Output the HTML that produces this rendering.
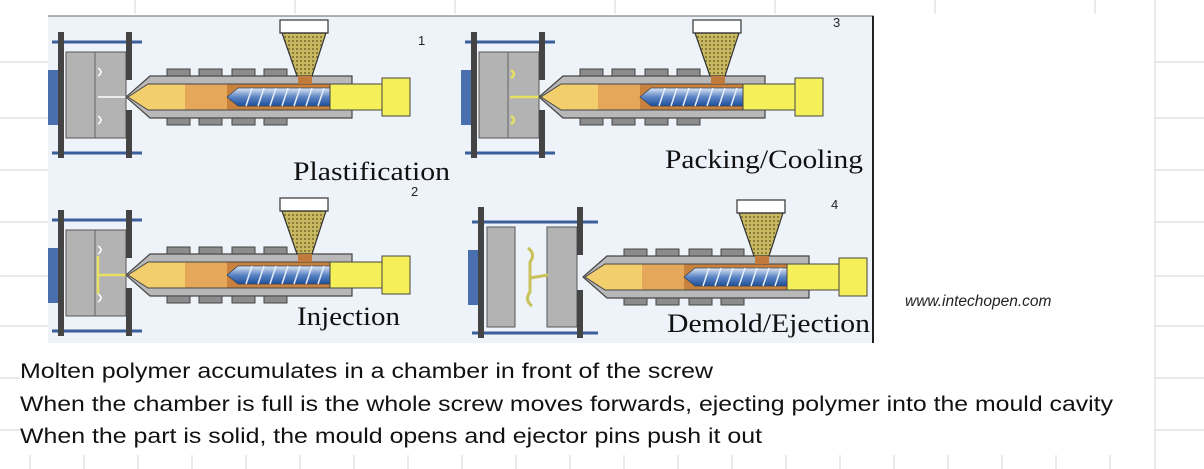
<!DOCTYPE html>
<html><head><meta charset="utf-8"><style>html,body{margin:0;padding:0;background:#fff;width:1204px;height:469px;overflow:hidden}</style></head>
<body>
<svg width="1204" height="469" viewBox="0 0 1204 469" xmlns="http://www.w3.org/2000/svg">
<defs>
<linearGradient id="scr" x1="0" y1="0" x2="0" y2="1"><stop offset="0" stop-color="#dfe8f5"/><stop offset="0.5" stop-color="#5b84c4"/><stop offset="1" stop-color="#1f4f9a"/></linearGradient>
<pattern id="grain" width="4" height="4" patternUnits="userSpaceOnUse"><rect width="4" height="4" fill="#c9b862"/><rect width="2" height="2" fill="#8a7d3a"/></pattern>
<g id="inj">
  <polygon points="126,97 150,76 352,76 352,118 150,118" fill="#b8b8b8" stroke="#444" stroke-width="1.2"/>
  <g fill="#8c8c8c" stroke="#444" stroke-width="1">
    <rect x="167" y="69" width="23" height="7"/><rect x="199" y="69" width="23" height="7"/><rect x="232" y="69" width="23" height="7"/><rect x="264" y="69" width="23" height="7"/>
    <rect x="167" y="118" width="23" height="7"/><rect x="199" y="118" width="23" height="7"/><rect x="232" y="118" width="23" height="7"/><rect x="264" y="118" width="23" height="7"/>
  </g>
  <polygon points="128,97 148,84 330,84 330,110 148,110" fill="#f2cf6c" stroke="#444" stroke-width="1"/>
  <rect x="185" y="84.5" width="42" height="25" fill="#e5a85a"/>
  <rect x="227" y="84.5" width="103" height="25" fill="#c8823e"/>
  <polygon points="227,97 238,88 330,88 330,106 238,106" fill="url(#scr)" stroke="#345" stroke-width="0.8"/>
  <g stroke="#e8eef8" stroke-width="1.5">
    <line x1="246" y1="106" x2="252" y2="88"/><line x1="258" y1="106" x2="264" y2="88"/><line x1="270" y1="106" x2="276" y2="88"/><line x1="282" y1="106" x2="288" y2="88"/><line x1="294" y1="106" x2="300" y2="88"/><line x1="306" y1="106" x2="312" y2="88"/><line x1="318" y1="106" x2="324" y2="88"/>
  </g>
  <rect x="330" y="84" width="52" height="26" fill="#f5f05a" stroke="#444" stroke-width="1"/>
  <rect x="382" y="78" width="28" height="38" fill="#f5f05a" stroke="#444" stroke-width="1"/>
  <rect x="280" y="20" width="48" height="13" fill="#fff" stroke="#333" stroke-width="1.2"/>
  <polygon points="282,33 326,33 312,76 297,76" fill="url(#grain)" stroke="#333" stroke-width="1.2"/>
  <rect x="298" y="76" width="14" height="8" fill="#c07a3c"/>
</g>
<g id="frame">
  <line x1="52" y1="42" x2="142" y2="42" stroke="#3a5f9a" stroke-width="3"/>
  <line x1="52" y1="153" x2="142" y2="153" stroke="#3a5f9a" stroke-width="3"/>
  <rect x="48" y="70" width="10" height="55" fill="#4a6fae"/>
  <rect x="58" y="32" width="6" height="126" fill="#444"/>
</g>
</defs>

<g stroke="#d6d6d6" stroke-width="1">
  <line x1="0" y1="62" x2="48" y2="62"/><line x1="0" y1="118" x2="48" y2="118"/><line x1="0" y1="170" x2="48" y2="170"/><line x1="0" y1="222" x2="48" y2="222"/><line x1="0" y1="276" x2="48" y2="276"/><line x1="0" y1="326" x2="48" y2="326"/><line x1="0" y1="378" x2="20" y2="378"/><line x1="0" y1="430" x2="20" y2="430"/>
  <line x1="1155" y1="62" x2="1204" y2="62"/><line x1="1155" y1="118" x2="1204" y2="118"/><line x1="1155" y1="170" x2="1204" y2="170"/><line x1="1155" y1="222" x2="1204" y2="222"/><line x1="1155" y1="276" x2="1204" y2="276"/><line x1="1155" y1="326" x2="1204" y2="326"/><line x1="1155" y1="378" x2="1204" y2="378"/><line x1="1155" y1="430" x2="1204" y2="430"/>
  <line x1="1155" y1="0" x2="1155" y2="469"/>
  <g>
    <line x1="30" y1="455" x2="30" y2="469"/><line x1="84" y1="455" x2="84" y2="469"/><line x1="138" y1="455" x2="138" y2="469"/><line x1="192" y1="455" x2="192" y2="469"/><line x1="246" y1="455" x2="246" y2="469"/><line x1="300" y1="455" x2="300" y2="469"/><line x1="354" y1="455" x2="354" y2="469"/><line x1="408" y1="455" x2="408" y2="469"/><line x1="462" y1="455" x2="462" y2="469"/><line x1="516" y1="455" x2="516" y2="469"/><line x1="570" y1="455" x2="570" y2="469"/><line x1="624" y1="455" x2="624" y2="469"/><line x1="678" y1="455" x2="678" y2="469"/><line x1="732" y1="455" x2="732" y2="469"/><line x1="786" y1="455" x2="786" y2="469"/><line x1="840" y1="455" x2="840" y2="469"/><line x1="894" y1="455" x2="894" y2="469"/><line x1="948" y1="455" x2="948" y2="469"/><line x1="1002" y1="455" x2="1002" y2="469"/><line x1="1056" y1="455" x2="1056" y2="469"/><line x1="1110" y1="455" x2="1110" y2="469"/>
    <line x1="135" y1="0" x2="135" y2="14"/><line x1="295" y1="0" x2="295" y2="14"/><line x1="455" y1="0" x2="455" y2="14"/><line x1="615" y1="0" x2="615" y2="14"/><line x1="775" y1="0" x2="775" y2="14"/><line x1="935" y1="0" x2="935" y2="14"/><line x1="1095" y1="0" x2="1095" y2="14"/>
  </g>
</g>

<rect x="48" y="16" width="826" height="327" fill="#eef3fa"/>
<line x1="48" y1="16" x2="874" y2="16" stroke="#666" stroke-width="1"/>
<line x1="873" y1="16" x2="873" y2="343" stroke="#222" stroke-width="2"/>

<g>
  <use href="#frame"/>
  <rect x="66" y="52" width="60" height="86" fill="#b3b3b3" stroke="#555"/>
  <line x1="95" y1="52" x2="95" y2="138" stroke="#666"/>
  <path d="M98,68 q6,4 0,8 M98,116 q6,4 0,8 M98,97 h28" stroke="#fff" stroke-width="1.5" fill="none"/>
  <rect x="126" y="32" width="6" height="48" fill="#444"/><rect x="126" y="110" width="6" height="48" fill="#444"/>
  <use href="#inj"/>
  <text x="418" y="45" font-family="Liberation Sans, sans-serif" font-size="13" fill="#222">1</text>
  <text x="293" y="180" font-family="Liberation Serif, serif" font-size="26" fill="#111" textLength="157" lengthAdjust="spacingAndGlyphs">Plastification</text>
</g>
<g transform="translate(0,178)">
  <use href="#frame"/>
  <rect x="66" y="52" width="60" height="86" fill="#b3b3b3" stroke="#555"/>
  <line x1="95" y1="52" x2="95" y2="138" stroke="#666"/>
  <path d="M98,68 q6,4 0,8 M98,116 q6,4 0,8" stroke="#fff" stroke-width="1.5" fill="none"/>
  <path d="M97,97 h29 M98,78 v38" stroke="#e8e060" stroke-width="2.5" fill="none"/>
  <rect x="126" y="32" width="6" height="48" fill="#444"/><rect x="126" y="110" width="6" height="48" fill="#444"/>
  <use href="#inj"/>
  <text x="411" y="18" font-family="Liberation Sans, sans-serif" font-size="13" fill="#222">2</text>
  <text x="297" y="147" font-family="Liberation Serif, serif" font-size="26" fill="#111" textLength="103" lengthAdjust="spacingAndGlyphs">Injection</text>
</g>
<g transform="translate(413,0)">
  <use href="#frame"/>
  <rect x="66" y="52" width="60" height="86" fill="#b3b3b3" stroke="#555"/>
  <line x1="95" y1="52" x2="95" y2="138" stroke="#666"/>
  <path d="M97,97 h29 M98,70 q6,4 0,8 M98,116 q6,4 0,8" stroke="#e8e060" stroke-width="2.5" fill="none"/>
  <rect x="126" y="32" width="6" height="48" fill="#444"/><rect x="126" y="110" width="6" height="48" fill="#444"/>
  <use href="#inj"/>
  <text x="420" y="27" font-family="Liberation Sans, sans-serif" font-size="13" fill="#222">3</text>
  <text x="252" y="168" font-family="Liberation Serif, serif" font-size="26" fill="#111" textLength="198" lengthAdjust="spacingAndGlyphs">Packing/Cooling</text>
</g>
<g transform="translate(420,180)">
  <line x1="52" y1="42" x2="178" y2="42" stroke="#3a5f9a" stroke-width="3"/>
  <line x1="52" y1="153" x2="178" y2="153" stroke="#3a5f9a" stroke-width="3"/>
  <rect x="48" y="70" width="10" height="55" fill="#4a6fae"/>
  <rect x="58" y="27" width="6" height="131" fill="#444"/>
  <rect x="67" y="47" width="28" height="100" fill="#b3b3b3" stroke="#555"/>
  <rect x="127" y="47" width="30" height="100" fill="#b3b3b3" stroke="#555"/>
  <path d="M108,68 q8,6 2,14 v30 q-6,8 2,14 M110,98 l18,-3" stroke="#c9c15a" stroke-width="3" fill="none"/>
  <rect x="157" y="27" width="6" height="48" fill="#444"/><rect x="157" y="110" width="6" height="48" fill="#444"/>
  <g transform="translate(37,0)"><use href="#inj"/></g>
  <text x="411" y="29" font-family="Liberation Sans, sans-serif" font-size="13" fill="#222">4</text>
  <text x="247" y="152" font-family="Liberation Serif, serif" font-size="26" fill="#111" textLength="203" lengthAdjust="spacingAndGlyphs">Demold/Ejection</text>
</g>

<text x="905" y="306" font-family="Liberation Sans, sans-serif" font-style="italic" font-size="15.5" fill="#222">www.intechopen.com</text>

<g font-family="Liberation Sans, sans-serif" font-size="21" fill="#111">
  <text x="20" y="378" textLength="693" lengthAdjust="spacingAndGlyphs">Molten polymer accumulates in a chamber in front of the screw</text>
  <text x="20" y="411" textLength="1093" lengthAdjust="spacingAndGlyphs">When the chamber is full is the whole screw moves forwards, ejecting polymer into the mould cavity</text>
  <text x="20" y="443" textLength="742" lengthAdjust="spacingAndGlyphs">When the part is solid, the mould opens and ejector pins push it out</text>
</g>
</svg>
</body></html>
